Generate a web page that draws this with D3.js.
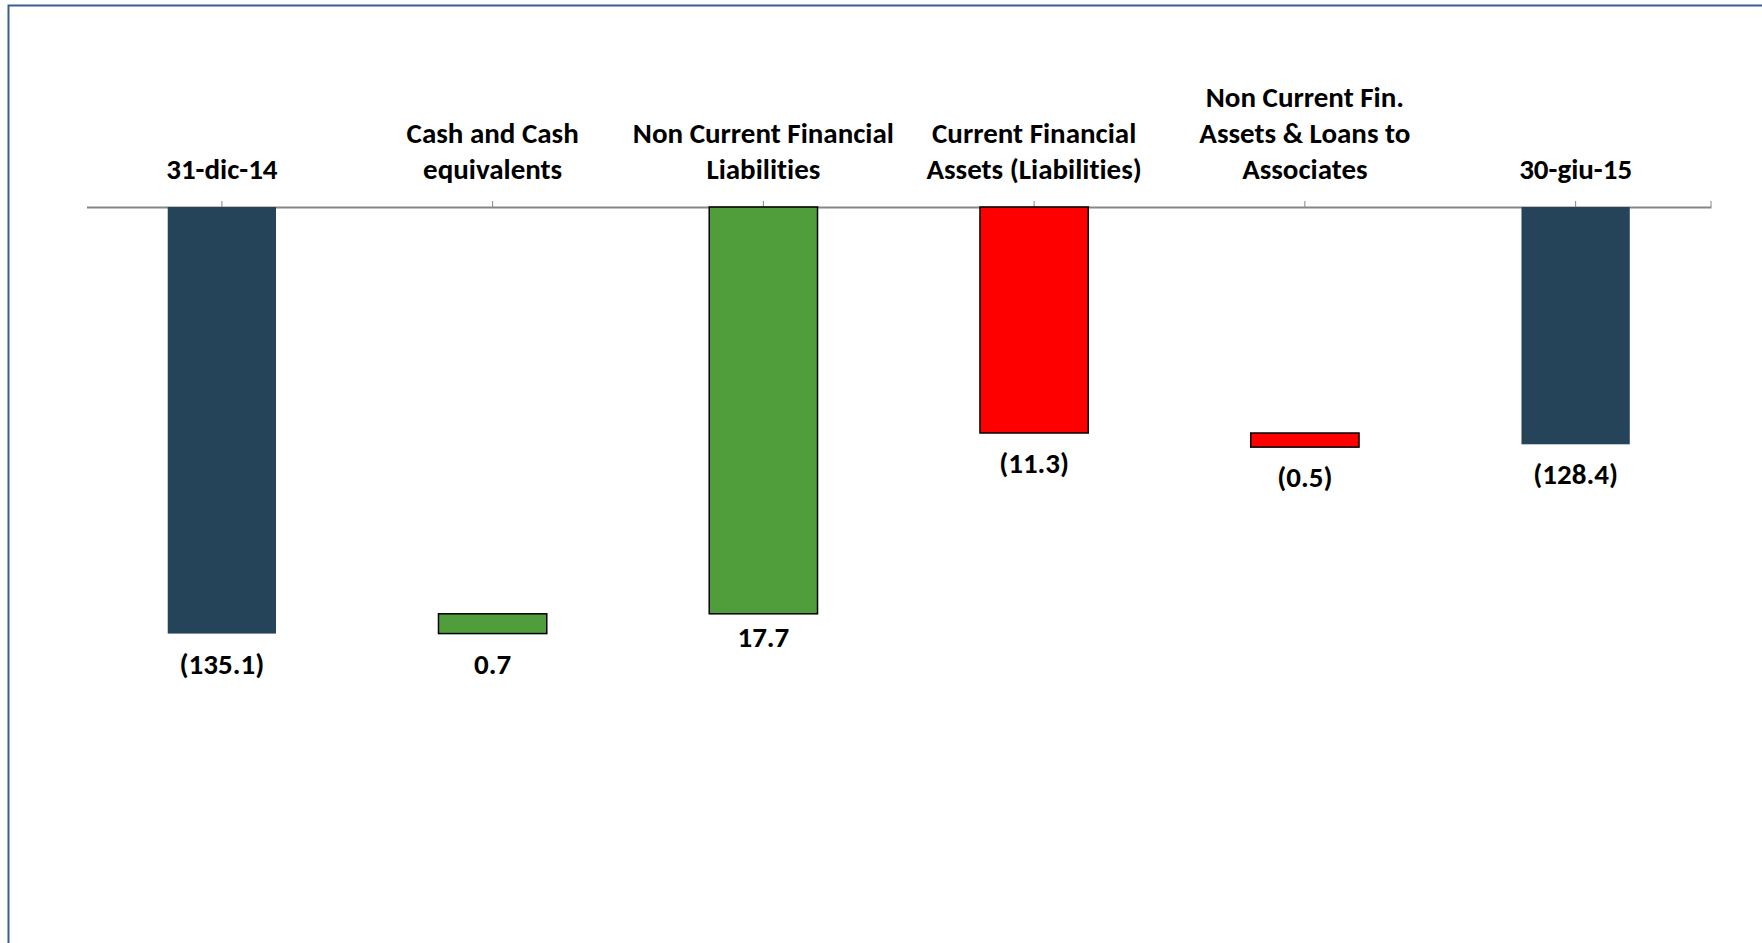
<!DOCTYPE html>
<html>
<head>
<meta charset="utf-8">
<script src="https://cdn.jsdelivr.net/npm/d3@7"></script>
<style>
  html, body { margin: 0; padding: 0; background: #ffffff; }
  svg { display: block; }
  text {
    font-family: "Carlito", "Liberation Sans Narrow", "Liberation Sans", sans-serif;
    font-weight: bold; fill: #000;
    font-variant-ligatures: none; font-feature-settings: "liga" 0, "clig" 0;
  }
</style>
</head>
<body>
<svg id="chart" width="1762" height="943"></svg>
<script>
// Net financial position bridge (waterfall), 31-dic-14 to 30-giu-15
const categories = [
  "31-dic-14",
  "Cash and Cash equivalents",
  "Non Current Financial Liabilities",
  "Current Financial Assets (Liabilities)",
  "Non Current Fin. Assets & Loans to Associates",
  "30-giu-15"
];
const categoryLines = [
  ["31-dic-14"],
  ["Cash and Cash", "equivalents"],
  ["Non Current Financial", "Liabilities"],
  ["Current Financial", "Assets (Liabilities)"],
  ["Non Current Fin.", "Assets & Loans to", "Associates"],
  ["30-giu-15"]
];
const values = [-135.1, 0.7, 17.7, -11.3, -0.5, -128.4];
const kinds = ["total", "delta", "delta", "delta", "delta", "total"];
const valueLabels = ["(135.1)", "0.7", "17.7", "(11.3)", "(0.5)", "(128.4)"];
const valueDomain = [-150, -120];   // value axis; category axis crosses at -120

const svg = d3.select("#chart");
const W = 1762, H = 943;
const axisY = 207;
const pxPerUnit = 28.25;

// frame around the chart area
svg.append("rect")
  .attr("x", 8.5).attr("y", 5.5)
  .attr("width", W + 20).attr("height", H + 20)
  .attr("fill", "none")
  .attr("stroke", "#3B5E91")
  .attr("stroke-width", 2);

const x = d3.scaleBand()
  .domain(categories)
  .range([86.5, 1711])
  .paddingInner(0.6)
  .paddingOuter(0.3);

const y = d3.scaleLinear()
  .domain(valueDomain)
  .range([axisY + (valueDomain[1] - valueDomain[0]) * pxPerUnit, axisY])
  .clamp(true);

// running totals for the waterfall
let running = 0;
const bars = categories.map((c, i) => {
  let start, end;
  if (kinds[i] === "total") {
    start = 0; end = values[i]; running = values[i];
  } else {
    start = running; end = running + values[i]; running = end;
  }
  const type = kinds[i] === "total" ? "total" : (values[i] >= 0 ? "up" : "down");
  return { cat: c, start, end, type, label: valueLabels[i], lines: categoryLines[i] };
});

const fills = { total: "#264459", up: "#4F9D3B", down: "#FF0000" };

// category axis along the top
const axis = svg.append("g")
  .attr("transform", `translate(0,${y(valueDomain[1])})`)
  .call(d3.axisTop(x).tickSize(6).tickSizeOuter(0).tickFormat(""));
axis.select(".domain").attr("stroke", "#868686").attr("stroke-width", 2);
axis.selectAll(".tick line").attr("stroke", "#868686").attr("stroke-width", 1);
axis.append("line")
  .attr("x1", x.range()[1]).attr("x2", x.range()[1])
  .attr("y1", 0).attr("y2", -6)
  .attr("stroke", "#868686").attr("stroke-width", 1);

// category labels above the axis, bottom-aligned
const lineH = 36;
const catG = svg.append("g");
bars.forEach(b => {
  const t = catG.append("text")
    .attr("text-anchor", "middle")
    .attr("font-size", 29);
  const n = b.lines.length;
  b.lines.forEach((ln, j) => {
    t.append("tspan")
      .attr("x", x(b.cat) + x.bandwidth() / 2)
      .attr("y", y(valueDomain[1]) - 28.5 - (n - 1 - j) * lineH)
      .text(ln);
  });
});

// bars
svg.append("g").selectAll("rect")
  .data(bars)
  .join("rect")
  .attr("x", d => x(d.cat))
  .attr("width", x.bandwidth())
  .attr("y", d => y(Math.max(d.start, d.end)))
  .attr("height", d => y(Math.min(d.start, d.end)) - y(Math.max(d.start, d.end)))
  .attr("fill", d => fills[d.type])
  .attr("stroke", d => d.type === "total" ? "none" : "#000")
  .attr("stroke-width", 1.5);

// value labels below each bar
svg.append("g").selectAll("text")
  .data(bars)
  .join("text")
  .attr("text-anchor", "middle")
  .attr("font-size", 29)
  .attr("x", d => x(d.cat) + x.bandwidth() / 2)
  .attr("y", d => y(Math.min(d.start, d.end)) + (d.end > d.start && d.end > valueDomain[1] ? 33 : 40))
  .text(d => d.label);
</script>
</body>
</html>
